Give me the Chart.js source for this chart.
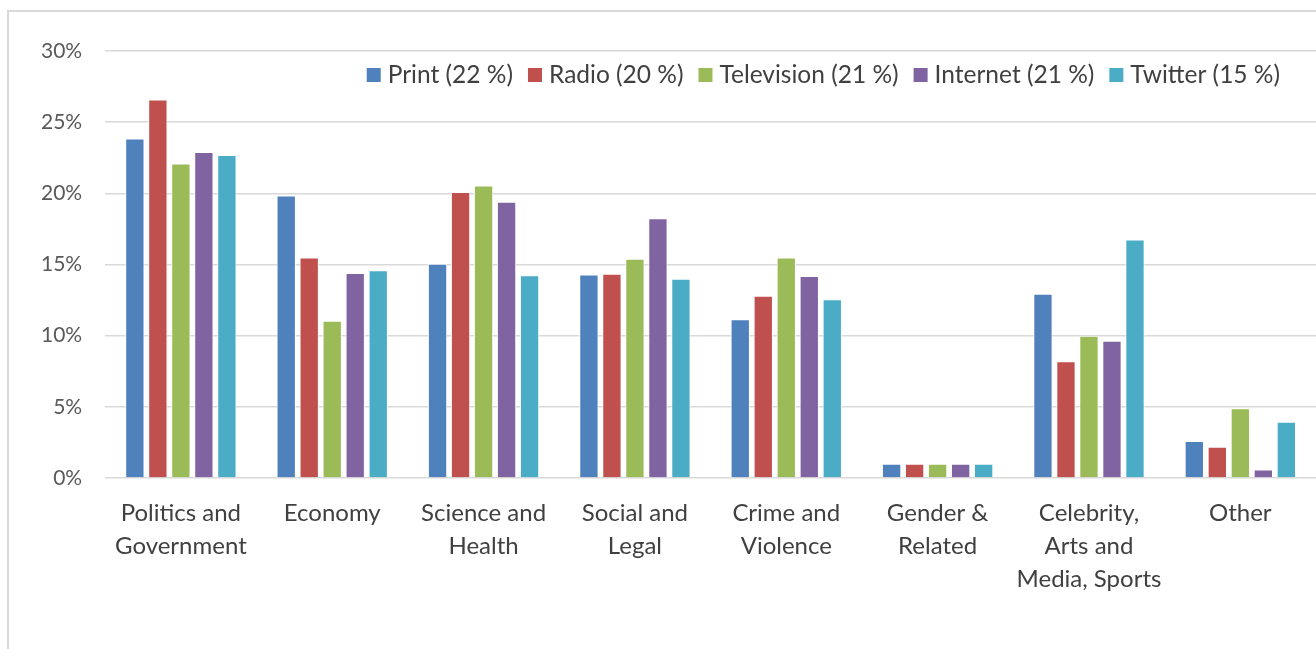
<!DOCTYPE html>
<html lang="en">
<head>
  <meta charset="UTF-8" />
  <title>Topic share by medium</title>
  <script src="https://cdn.jsdelivr.net/npm/chart.js"></script>
  <style>
    html, body { margin: 0; padding: 0; background: #fff; }
    #frame { position: absolute; left: 7px; top: 10px; width: 1320px; height: 660px;
             border-left: 2px solid #d9d9d9; border-top: 2px solid #d9d9d9; }
    #wrap { position: absolute; left: 0; top: 0; width: 1316px; height: 649px; }
  </style>
</head>
<body>
  <div id="frame"></div>
  <div id="wrap"><canvas id="topicChart"></canvas></div>

  <script>
    const categories = [
      ['Politics and', 'Government'],
      'Economy',
      ['Science and', 'Health'],
      ['Social and', 'Legal'],
      ['Crime and', 'Violence'],
      ['Gender &', 'Related'],
      ['Celebrity,', 'Arts and', 'Media, Sports'],
      'Other'
    ];
    const seriesNames = ['Print (22 %)', 'Radio (20 %)', 'Television (21 %)', 'Internet (21 %)', 'Twitter (15 %)'];
    const print      = [23.85, 19.85, 15.05, 14.3, 11.15, 1.0, 12.95, 2.6];
    const radio      = [26.6, 15.5, 20.1, 14.35, 12.8, 1.0, 8.2, 2.2];
    const television = [22.1, 11.05, 20.55, 15.4, 15.5, 1.0, 10.0, 4.9];
    const internet   = [22.9, 14.4, 19.4, 18.25, 14.2, 1.0, 9.65, 0.6];
    const twitter    = [22.7, 14.6, 14.25, 14.0, 12.55, 1.0, 16.75, 3.95];
    const yTicks = [0, 5, 10, 15, 20, 25, 30];

    const colors = ['#4f81bd', '#c0504d', '#9bbb59', '#8064a2', '#4bacc6'];
    const values = [print, radio, television, internet, twitter];

    const font = "Lato, 'Open Sans', sans-serif";

    // legend drawn inside the plot area, right aligned like the original
    const insideLegend = {
      id: 'insideLegend',
      afterDraw(chart) {
        const ctx = chart.ctx;
        const area = chart.chartArea;
        ctx.save();
        ctx.font = '24.5px ' + font;
        ctx.textBaseline = 'middle';
        const box = 14, gapText = 7, gapItem = 15;
        const widths = chart.data.datasets.map(d => box + gapText + ctx.measureText(d.label).width);
        const total = widths.reduce((a, b) => a + b, 0) + gapItem * (widths.length - 1);
        let x = 1280 - total;
        const y = area.top + 24;
        chart.data.datasets.forEach((d, i) => {
          ctx.fillStyle = d.backgroundColor;
          ctx.fillRect(x, y - box / 2, box, box);
          ctx.fillStyle = '#404040';
          ctx.fillText(d.label, x + box + gapText, y);
          x += widths[i] + gapItem;
        });
        ctx.restore();
      }
    };

    new Chart(document.getElementById('topicChart'), {
      type: 'bar',
      data: {
        labels: categories,
        datasets: values.map((v, i) => ({
          label: seriesNames[i],
          data: v,
          backgroundColor: colors[i],
          borderColor: '#ffffff',
          borderWidth: 1,
          categoryPercentage: 0.76,
          barPercentage: 0.84
        }))
      },
      options: {
        responsive: true,
        maintainAspectRatio: false,
        animation: false,
        layout: { padding: { top: 51, right: 0, left: 18, bottom: 42 } },
        plugins: {
          tooltip: { enabled: false },
          legend: { display: false }
        },
        scales: {
          x: {
            grid: { display: false },
            border: { display: false },
            ticks: {
              font: { family: font, size: 24, lineHeight: 1.375 },
              color: '#404040',
              maxRotation: 0,
              autoSkip: false,
              padding: 11
            }
          },
          y: {
            min: 0,
            max: 30,
            afterBuildTicks: axis => { axis.ticks = yTicks.map(v => ({ value: v })); },
            grid: { color: '#d9d9d9', lineWidth: 1.5, drawTicks: false },
            border: { display: false },
            ticks: {
              font: { family: font, size: 21 },
              color: '#595959',
              padding: 23,
              callback: v => v + '%'
            }
          }
        }
      },
      plugins: [insideLegend]
    });
  </script>
</body>
</html>
